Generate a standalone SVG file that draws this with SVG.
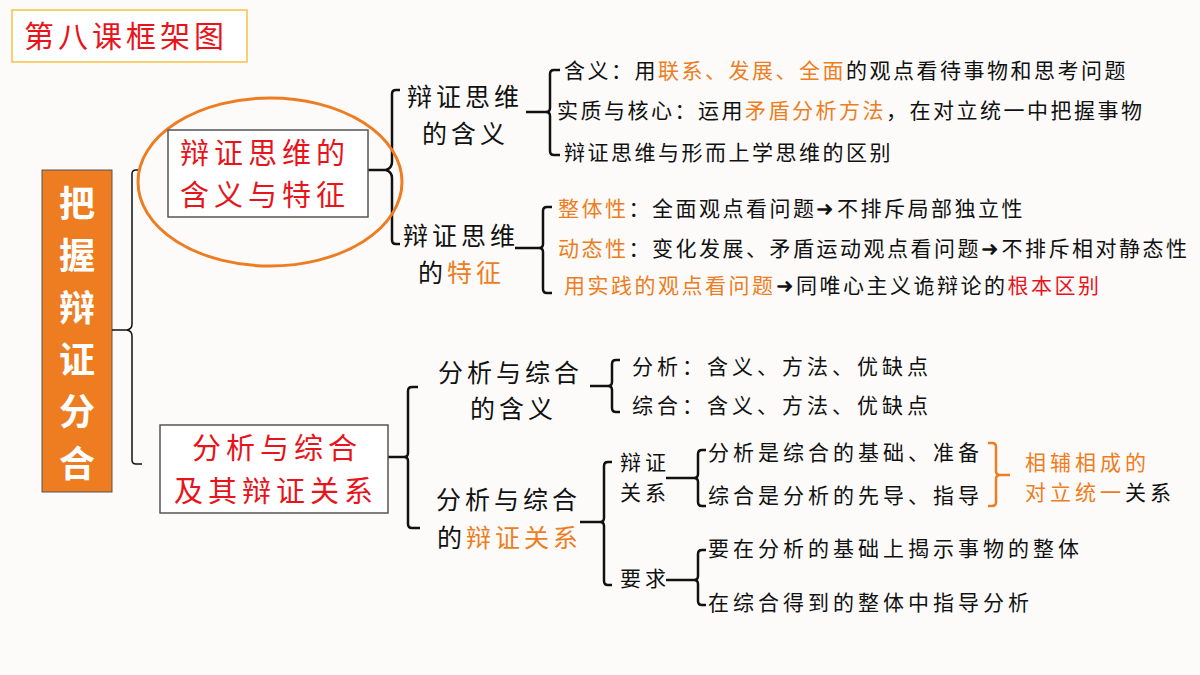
<svg xmlns="http://www.w3.org/2000/svg" width="1200" height="675" viewBox="0 0 1200 675">
<style>
text{font-family:"Noto Sans CJK SC","Liberation Sans",sans-serif;fill:#111}
.b{fill:none;stroke:#111;stroke-width:2.5}
.m{font-size:25px;letter-spacing:4px}
.s{font-size:21px;letter-spacing:2.5px}
.t{font-size:21px;letter-spacing:4px}
.o{fill:#ee7d22}
.r{fill:#e8141b}
.big{font-size:29px;letter-spacing:5px}
</style>
<rect width="1200" height="675" fill="#fcfbfa"/>
<g id="title"><rect x="12" y="10" width="235" height="52" fill="#fff" stroke="#f5c242" stroke-width="1.5"/><text x="24" y="47" font-size="30" letter-spacing="4" class="r">第八课框架图</text></g>
<g id="root"><rect x="42" y="170" width="70" height="322" fill="#ee7d22" stroke="#555"/>
<text x="77" y="217" font-size="36" font-weight="bold" text-anchor="middle" style="fill:#fff">把</text>
<text x="77" y="269" font-size="36" font-weight="bold" text-anchor="middle" style="fill:#fff">握</text>
<text x="77" y="321" font-size="36" font-weight="bold" text-anchor="middle" style="fill:#fff">辩</text>
<text x="77" y="373" font-size="36" font-weight="bold" text-anchor="middle" style="fill:#fff">证</text>
<text x="77" y="425" font-size="36" font-weight="bold" text-anchor="middle" style="fill:#fff">分</text>
<text x="77" y="477" font-size="36" font-weight="bold" text-anchor="middle" style="fill:#fff">合</text></g>
<g id="connectors">
<path class="b" style="stroke-width:1.5" d="M140 170 h-4 q-4 0 -4 4 v150 q0 5 -5 6 h-15 M127 330 q5 1 5 6 v124 q0 4 4 4 h6"/>
<path class="b" d="M400 90 h-4 q-4 0 -4 4 v68 q0 6 -6 8 h-18 M386 170 q6 2 6 8 v62 q0 4 4 4 h4"/>
<path class="b" d="M560 70 h-6 q-4 0 -4 4 v34 q0 4 -4 4 h-20 M546 112 q4 0 4 4 v35 q0 4 4 4 h6"/>
<path class="b" d="M552 207 h-5 q-4 0 -4 4 v33 q0 4 -4 4 h-24 M539 248 q4 0 4 4 v37 q0 4 4 4 h5"/>
<path class="b" d="M418 387 h-6 q-4 0 -4 4 v62 q0 4 -4 4 h-16 M404 457 q4 0 4 4 v63 q0 4 4 4 h8"/>
<path class="b" d="M620 360 h-4 q-4 0 -4 4 v18 q0 4 -4 4 h-18 M608 386 q4 0 4 4 v18 q0 4 4 4 h4"/>
<path class="b" d="M612 462 h-4 q-4 0 -4 4 v52 q0 4 -4 4 h-20 M600 522 q4 0 4 4 v55 q0 4 4 4 h4"/>
<path class="b" d="M706 450 h-4 q-4 0 -4 4 v20 q0 4 -4 4 h-28 M694 478 q4 0 4 4 v20 q0 4 4 4 h4"/>
<path class="b" d="M706 550 h-4 q-4 0 -4 4 v22 q0 4 -4 4 h-28 M694 580 q4 0 4 4 v17 q0 4 4 4 h4"/>
<path class="b" style="stroke:#ee7d22" d="M988 443 h4 q4 0 4 4 v24 q0 4 4 4 h10 M1000 475 q-4 0 -4 4 v23 q0 4 -4 4 h-4"/>
</g>
<g id="n1"><ellipse cx="270" cy="182" rx="132" ry="84" fill="none" stroke="#ee7d22" stroke-width="3"/>
<rect x="168" y="130" width="200" height="87" fill="#fff" stroke="#555" stroke-width="1.5"/>
<text x="180" y="164" class="big r">辩证思维的</text>
<text x="180" y="206" class="big r">含义与特征</text></g>
<g id="n2"><rect x="160" y="425" width="228" height="88" fill="#fff" stroke="#555" stroke-width="1.5"/>
<text x="192" y="459" class="big r">分析与综合</text>
<text x="174" y="502" class="big r">及其辩证关系</text></g>
<g id="n3"><text class="m" x="407" y="106">辩证思维</text><text class="m" x="422" y="143">的含义</text></g>
<g id="n4"><text class="m" x="403" y="245">辩证思维</text><text class="m" x="418" y="282">的<tspan class="o">特征</tspan></text></g>
<g id="n5">
<text class="s" x="564" y="78">含义：用<tspan class="o">联系、发展、全面</tspan>的观点看待事物和思考问题</text>
<text class="s" x="557" y="118">实质与核心：运用<tspan class="o">矛盾分析方法</tspan>，在对立统一中把握事物</text>
<text class="s" x="564" y="160">辩证思维与形而上学思维的区别</text>
<text class="s" x="558" y="216"><tspan class="o">整体性</tspan>：全面观点看问题➜不排斥局部独立性</text>
<text class="s" x="558" y="256" letter-spacing="2"><tspan class="o">动态性</tspan>：变化发展、矛盾运动观点看问题➜不排斥相对静态性</text>
<text class="s" x="564" y="293"><tspan class="o">用实践的观点看问题</tspan>➜同唯心主义诡辩论的<tspan class="r">根本区别</tspan></text>
</g>
<g id="n6"><text class="m" x="438" y="382">分析与综合</text><text class="m" x="470" y="418">的含义</text></g>
<g id="n7"><text class="m" x="436" y="509">分析与综合</text><text class="m" x="437" y="547">的<tspan class="o">辩证关系</tspan></text></g>
<g id="n8"><text class="t" x="632" y="374">分析：含义、方法、优缺点</text><text class="t" x="632" y="413">综合：含义、方法、优缺点</text></g>
<g id="n9"><text class="t" x="620" y="470">辩证</text><text class="t" x="620" y="500">关系</text><text class="t" x="620" y="586">要求</text></g>
<g id="n10"><text class="t" x="708" y="460">分析是综合的基础、准备</text><text class="t" x="708" y="503">综合是分析的先导、指导</text>
<text class="t" x="708" y="556">要在分析的基础上揭示事物的整体</text><text class="t" x="708" y="610">在综合得到的整体中指导分析</text></g>
<g id="n11"><text class="t o" x="1025" y="470">相辅相成的</text><text class="t" x="1025" y="500"><tspan class="o">对立统一</tspan>关系</text></g>
</svg>
